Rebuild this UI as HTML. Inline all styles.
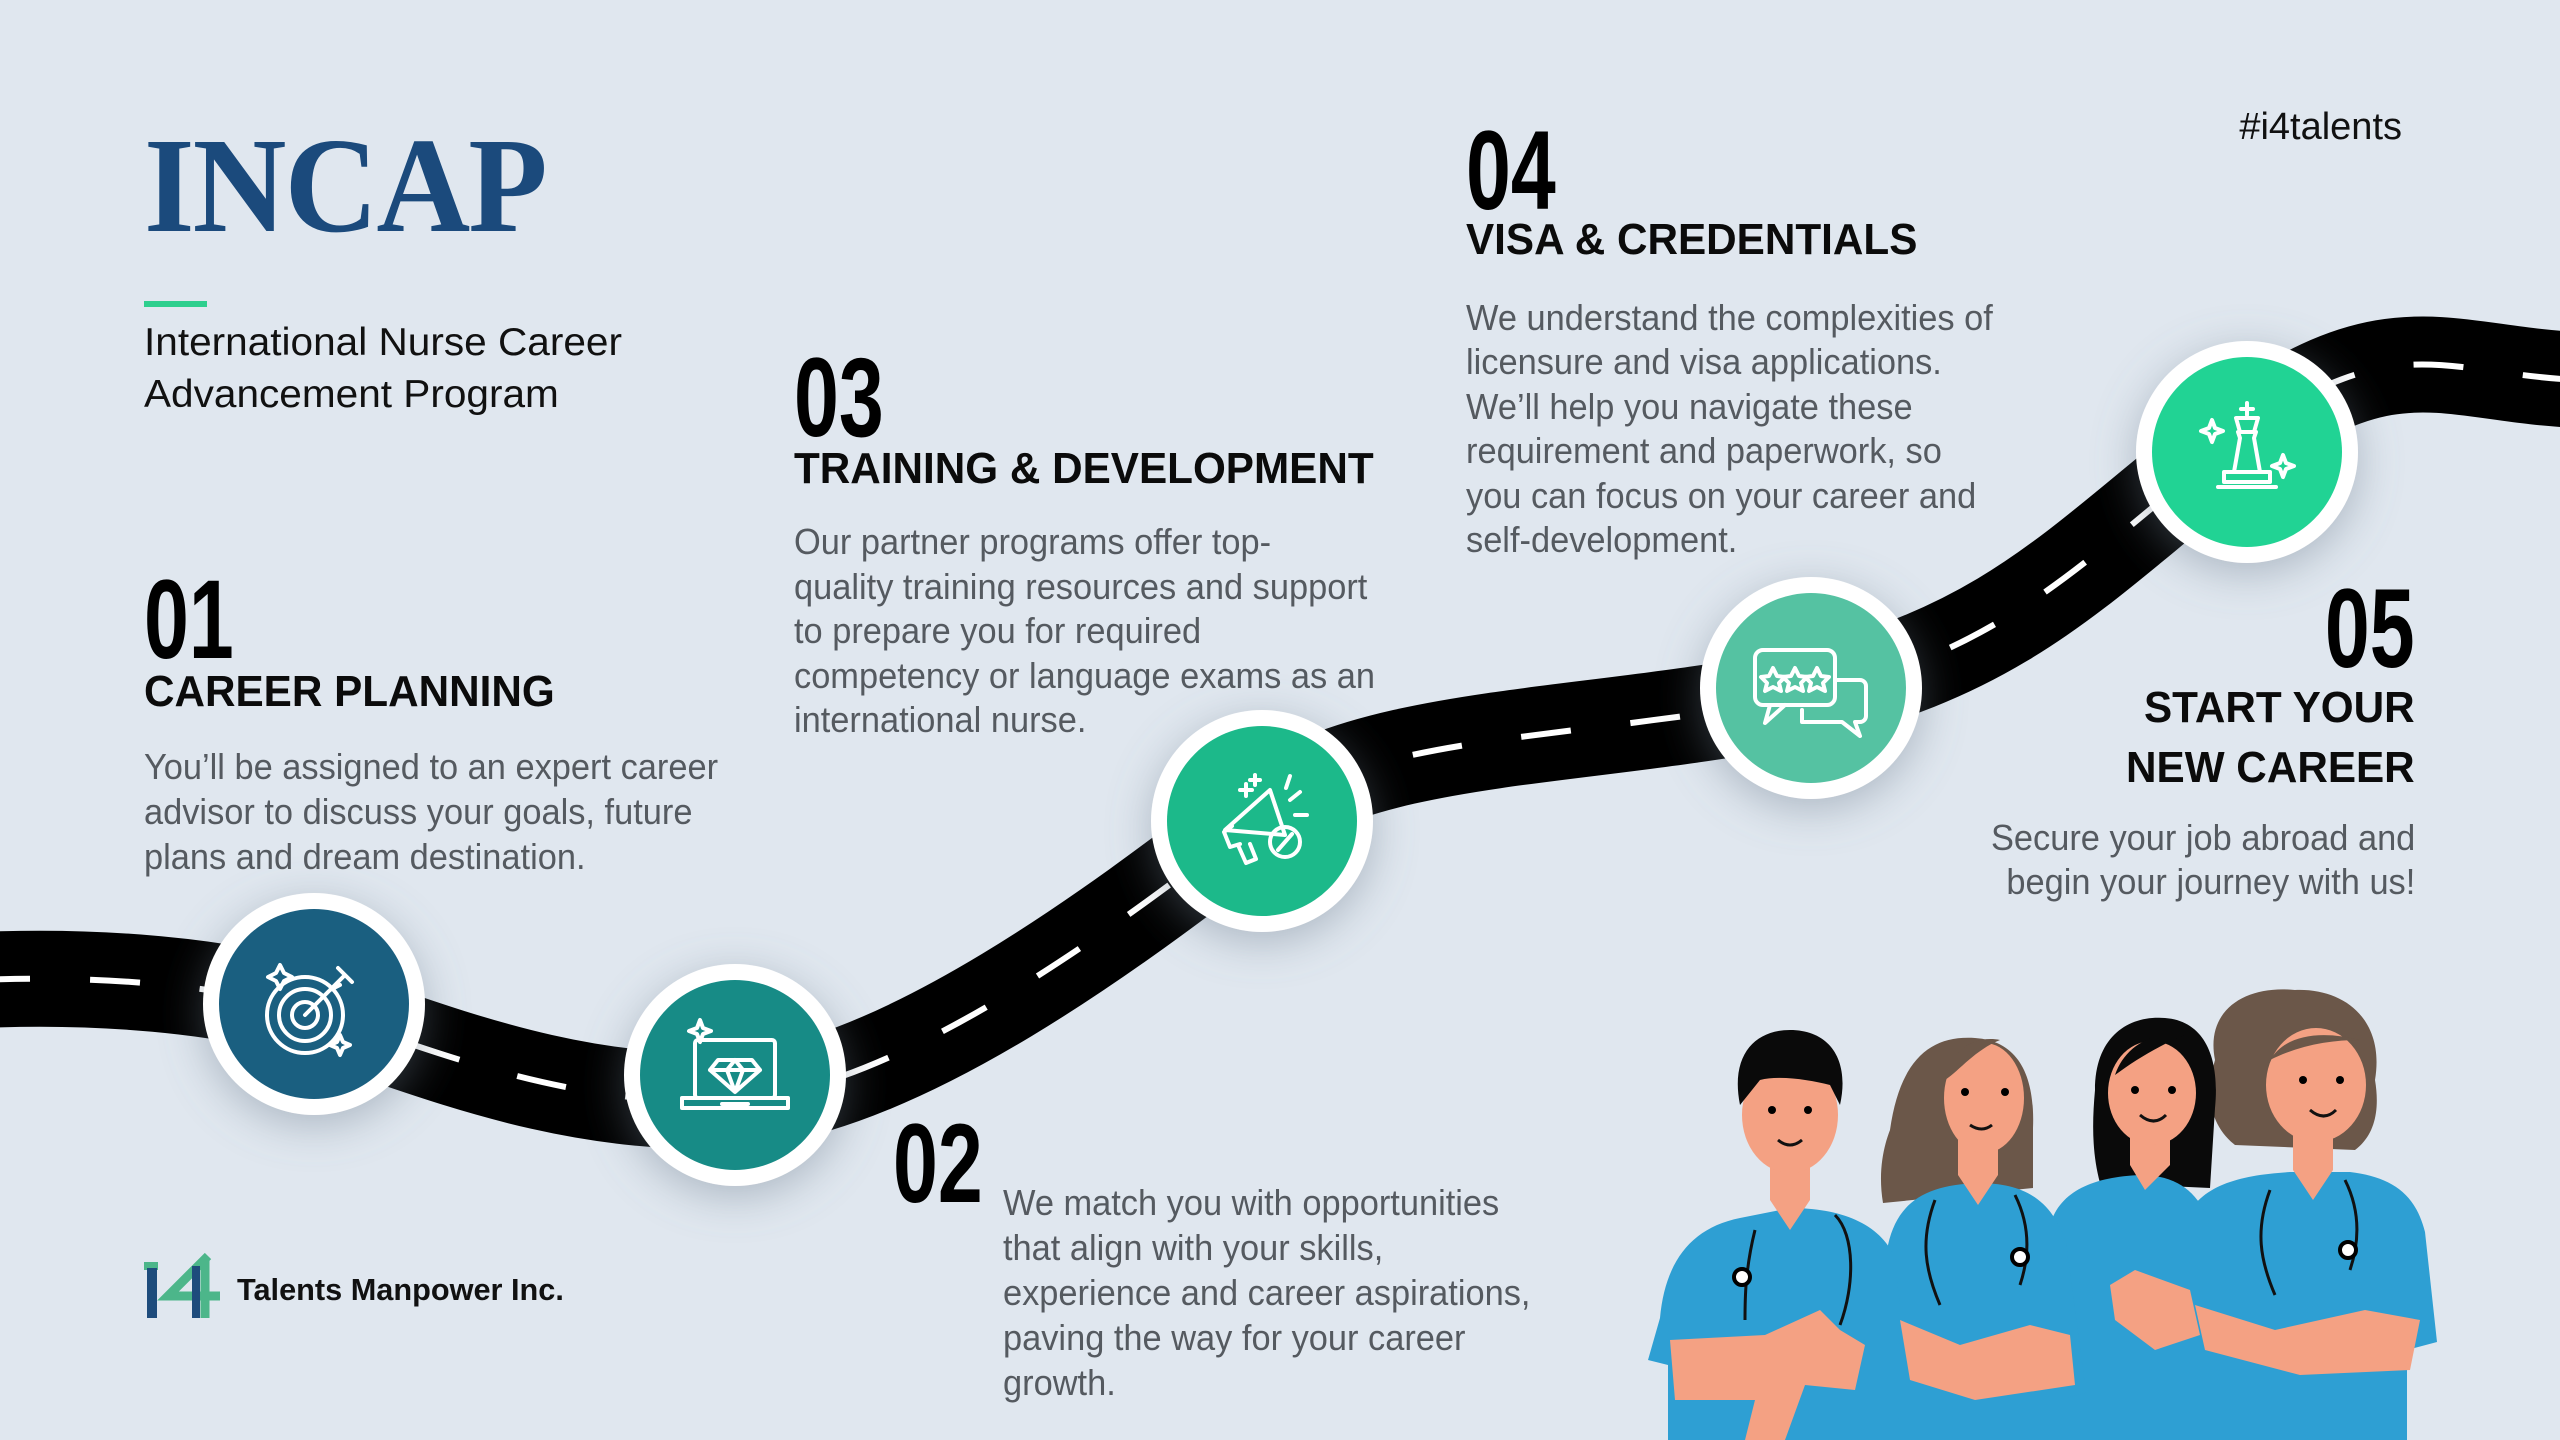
<!DOCTYPE html>
<html><head><meta charset="utf-8">
<style>
html,body{margin:0;padding:0}
body{width:2560px;height:1440px;position:relative;overflow:hidden;background:#e0e7ef;font-family:"Liberation Sans",sans-serif}
.t{position:absolute;white-space:nowrap;transform-origin:0 0}
.r{transform-origin:100% 0;text-align:right}
.num{font-weight:bold;font-size:112px;line-height:112px;color:#000;transform:scaleX(0.72)}
.num.r{transform:scaleX(0.72)}
.h{font-weight:bold;font-size:44px;line-height:52px;color:#0b0b0b;transform:scaleX(0.96)}
.b{font-size:36px;color:#555a60;transform:scaleX(0.955)}
</style></head><body>
<svg width="2560" height="1440" style="position:absolute;left:0;top:0">
<defs>
<filter id="sh" x="-50%" y="-50%" width="200%" height="200%"><feDropShadow dx="0" dy="10" stdDeviation="22" flood-color="#6a7a8c" flood-opacity="0.45"/></filter>
</defs>
<path id="road" d="M-20,980 C100,975 220,985 314,1012 S560,1110 735,1100 S1150,900 1262,815 S1600,740 1811,694 S2100,540 2247,433 S2450,375 2580,380" fill="none" stroke="#000" stroke-width="96"/>
<path d="M-20,980 C100,975 220,985 314,1012 S560,1110 735,1100 S1150,900 1262,815 S1600,740 1811,694 S2100,540 2247,433 S2450,375 2580,380" fill="none" stroke="#fff" stroke-width="6" stroke-dasharray="50 60"/>
<g filter="url(#sh)">
<circle cx="314" cy="1004" r="111" fill="#fff"/>
<circle cx="735" cy="1075" r="111" fill="#fff"/>
<circle cx="1262" cy="821" r="111" fill="#fff"/>
<circle cx="1811" cy="688" r="111" fill="#fff"/>
<circle cx="2247" cy="452" r="111" fill="#fff"/>
</g>
<circle cx="314" cy="1004" r="95" fill="#1a5f80"/>
<circle cx="735" cy="1075" r="95" fill="#178b86"/>
<circle cx="1262" cy="821" r="95" fill="#1cb98a"/>
<circle cx="1811" cy="688" r="95" fill="#55c2a2"/>
<circle cx="2247" cy="452" r="95" fill="#21d394"/>
<g fill="none" stroke="#fff" stroke-width="4" stroke-linejoin="round" stroke-linecap="round">
<circle cx="305" cy="1015" r="38"/><circle cx="305" cy="1015" r="26"/><circle cx="305" cy="1015" r="13"/>
<path d="M305,1015 L345,975 M338,968 L345,975 L352,982 M330,990 L340,985"/>
<path d="M280,965 l4,8 l8,4 l-8,4 l-4,8 l-4,-8 l-8,-4 l8,-4z M340,1035 l3,7 l7,3 l-7,3 l-3,7 l-3,-7 l-7,-3 l7,-3z"/>
<rect x="695" y="1040" width="80" height="58" rx="3"/><path d="M682,1098 h106 v10 h-106z M722,1104 h26"/>
<path d="M718,1060 h34 l8,10 l-25,22 l-25,-22z M710,1070 h50 M735,1092 l-8,-22 l8,-10 l8,10z"/>
<path d="M700,1020 l3,8 l8,3 l-8,3 l-3,8 l-3,-8 l-8,-3 l8,-3z"/>
<path d="M1225,830 l45,-40 l15,45 z M1232,826 l-8,6 l6,15 l10,-3 M1238,845 l8,18 l10,-4 l-6,-15"/>
<circle cx="1285" cy="842" r="15"/><path d="M1278,850 l14,-16"/>
<path d="M1290,800 l10,-8 M1295,815 l12,0 M1286,788 l4,-12 M1240,790 h12 M1246,784 v12 M1255,775 v10 M1250,780 h10"/>
<rect x="1755" y="650" width="80" height="55" rx="8"/><path d="M1770,705 l-5,18 l20,-18"/>
<path d="M1835,680 h25 a6,6 0 0 1 6,6 v30 a6,6 0 0 1 -6,6 h-5 l5,14 l-18,-14 h-40 v-12"/>
<path d="M1773,668 l4,8 l8,1 l-6,6 l2,8 l-8,-4 l-8,4 l2,-8 l-6,-6 l8,-1z M1795,668 l4,8 l8,1 l-6,6 l2,8 l-8,-4 l-8,4 l2,-8 l-6,-6 l8,-1z M1817,668 l4,8 l8,1 l-6,6 l2,8 l-8,-4 l-8,4 l2,-8 l-6,-6 l8,-1z"/>
<path d="M2247,403 v12 M2241,409 h12 M2236,418 h22 l-4,14 h-14z M2238,432 h18 l-2,6 l6,34 h-26 l6,-34z M2224,472 h46 v10 h-46z M2218,487 h58"/>
<path d="M2212,420 l3,8 l8,3 l-8,3 l-3,8 l-3,-8 l-8,-3 l8,-3z M2283,455 l3,8 l8,3 l-8,3 l-3,8 l-3,-8 l-8,-3 l8,-3z"/>
</g>
<rect x="144" y="1262" width="14" height="8" fill="#4cb68a"/>
<path d="M152,1268 v50" stroke="#1e4c7c" stroke-width="10"/>
<path d="M208,1256 l-40,40 h52 M205,1258 v60" stroke="#4cb68a" stroke-width="9" fill="none"/>
<path d="M196,1266 v52" stroke="#1e4c7c" stroke-width="8"/>
<rect x="144" y="301" width="63" height="6" fill="#2ecf8e"/>
<g>
<path d="M2215,1060 c-10,-50 30,-75 80,-70 c50,-2 90,30 80,90 c5,30 0,55 -20,70 l-120,-5 c-25,-20 -30,-50 -20,-85z" fill="#6b5749"/>
<path d="M2095,1090 c0,-55 35,-75 70,-72 c40,3 55,40 50,90 l-5,80 l-110,-5 c-8,-30 -8,-60 -5,-93z" fill="#0a0a0a"/>
<path d="M1890,1130 c10,-70 40,-95 85,-92 c45,3 60,40 58,90 l0,60 l-150,15 c-5,-30 0,-55 7,-73z" fill="#6b5749"/>
<path d="M2185,1220 c15,-35 55,-45 105,-48 l60,0 c40,5 65,20 75,60 l12,110 l-30,8 v90 h-200 l-10,-140 z" fill="#2e9fd3"/>
<path d="M2050,1225 c10,-35 45,-48 90,-50 c40,0 60,20 70,50 v215 h-150 z" fill="#2e9fd3"/>
<path d="M1888,1245 c10,-45 40,-60 90,-62 c50,0 75,20 88,60 l20,150 l-20,5 v42 h-170 l0,-80 l-15,-5z" fill="#2e9fd3"/>
<path d="M1660,1318 c5,-55 30,-90 80,-100 l50,-10 c50,0 90,15 105,50 l5,50 l-2,132 h-230 l0,-75 l-20,-5z" fill="#2e9fd3"/>
<path d="M1770,1165 h40 v35 l-20,30 l-20,-30z M1958,1140 h40 v35 l-20,30 l-20,-30z M2130,1135 h40 v30 l-25,25 l-15,-25z M2293,1135 h40 v35 l-20,30 l-20,-30z" fill="#f4a183"/>
<path d="M1670,1340 l95,-5 l55,-25 l20,20 l25,15 l-10,45 l-50,-5 l-20,55 h-40 l10,-40 h-80z" fill="#f4a183"/>
<path d="M1900,1320 l60,25 l70,-20 l40,10 l5,50 l-100,15 l-65,-20z" fill="#f4a183"/>
<path d="M2110,1285 l25,-15 l55,20 l10,45 l-45,15 l-40,-30z" fill="#f4a183"/>
<path d="M2195,1305 l80,25 l90,-20 l55,10 l-10,50 l-110,5 l-95,-25z" fill="#f4a183"/>
<ellipse cx="1790" cy="1115" rx="48" ry="58" fill="#f4a183"/>
<ellipse cx="1984" cy="1098" rx="40" ry="55" fill="#f4a183"/>
<ellipse cx="2152" cy="1093" rx="44" ry="52" fill="#f4a183"/>
<ellipse cx="2316" cy="1085" rx="50" ry="57" fill="#f4a183"/>
<path d="M1740,1105 c-10,-50 15,-75 50,-75 c40,0 60,30 50,75 l-10,-20 c-20,-5 -50,-10 -70,-5z" fill="#0a0a0a"/>
<path d="M1945,1080 c5,-30 30,-45 55,-40 c-25,10 -40,30 -55,40z" fill="#6b5749"/>
<path d="M2115,1075 c10,-30 40,-45 70,-40 c-25,10 -50,25 -70,40z" fill="#0a0a0a"/>
<path d="M2270,1060 c15,-25 50,-30 90,-20 c-30,0 -60,5 -90,20z" fill="#6b5749"/>
<g fill="#000"><circle cx="1772" cy="1110" r="4"/><circle cx="1808" cy="1110" r="4"/><circle cx="1965" cy="1092" r="4"/><circle cx="2005" cy="1092" r="4"/><circle cx="2135" cy="1090" r="4"/><circle cx="2172" cy="1090" r="4"/><circle cx="2303" cy="1080" r="4"/><circle cx="2340" cy="1080" r="4"/></g>
<g fill="none" stroke="#111" stroke-width="3">
<path d="M1778,1140 q12,10 24,0 M1970,1125 q12,8 22,0 M2140,1115 q14,12 26,0 M2310,1110 q14,12 26,0"/>
<path d="M1755,1230 c-10,40 -10,70 -10,90 M1835,1215 c20,20 20,70 5,110"/>
<path d="M1935,1200 c-15,40 -10,70 5,105 M2015,1195 c15,30 15,60 5,90"/>
<path d="M2270,1190 c-15,40 -10,70 5,105 M2345,1180 c15,30 15,60 5,90"/>
</g>
<g fill="#fff" stroke="#000" stroke-width="4"><circle cx="1742" cy="1277" r="8"/><circle cx="2020" cy="1257" r="8"/><circle cx="2348" cy="1250" r="8"/></g>
</g>
</svg>

<div class="t" style="left:144px;top:118px;font-family:'Liberation Serif',serif;font-weight:bold;font-size:136px;line-height:136px;color:#1b4a7c;transform:scaleX(0.955);letter-spacing:-2px">INCAP</div>
<div class="t" style="left:144px;top:317px;font-size:39px;line-height:52px;color:#111;transform:scaleX(1.04)">International Nurse Career<br>Advancement Program</div>
<div class="t" style="right:158px;top:104px;font-size:38px;line-height:46px;color:#111">#i4talents</div>

<div class="t num" style="left:144px;top:564px">01</div>
<div class="t h" style="left:144px;top:666px">CAREER PLANNING</div>
<div class="t b" style="left:144px;top:744px;line-height:45px">You’ll be assigned to an expert career<br>advisor to discuss your goals, future<br>plans and dream destination.</div>

<div class="t num" style="left:794px;top:342px">03</div>
<div class="t h" style="left:794px;top:443px">TRAINING &amp; DEVELOPMENT</div>
<div class="t b" style="left:794px;top:520px;line-height:44.5px">Our partner programs offer top-<br>quality training resources and support<br>to prepare you for required<br>competency or language exams as an<br>international nurse.</div>

<div class="t num" style="left:1466px;top:115px">04</div>
<div class="t h" style="left:1466px;top:214px">VISA &amp; CREDENTIALS</div>
<div class="t b" style="left:1466px;top:296px;line-height:44.4px">We understand the complexities of<br>licensure and visa applications.<br>We’ll help you navigate these<br>requirement and paperwork, so<br>you can focus on your career and<br>self-development.</div>

<div class="t num r" style="right:145px;top:573px">05</div>
<div class="t h r" style="right:145px;top:678px;line-height:60px">START YOUR<br>NEW CAREER</div>
<div class="t b r" style="right:145px;top:816px;line-height:44px">Secure your job abroad and<br>begin your journey with us!</div>

<div class="t num" style="left:893px;top:1108px">02</div>
<div class="t b" style="left:1003px;top:1180px;line-height:45px">We match you with opportunities<br>that align with your skills,<br>experience and career aspirations,<br>paving the way for your career<br>growth.</div>

<div class="t" style="left:237px;top:1270px;font-weight:bold;font-size:31px;line-height:40px;color:#111;transform:scaleX(0.99)">Talents Manpower Inc.</div>
</body></html>
